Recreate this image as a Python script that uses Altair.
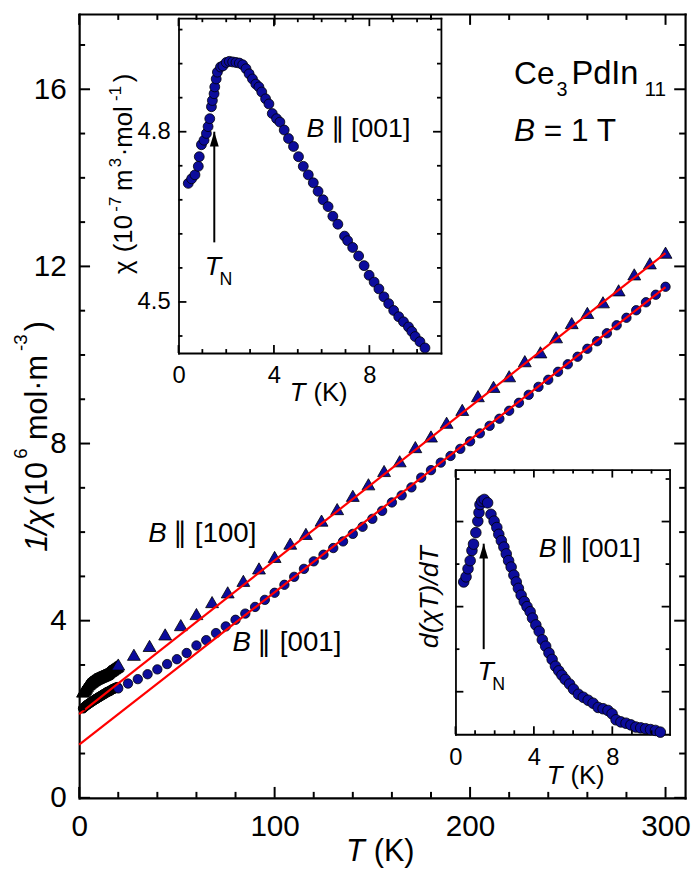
import altair as alt
import pandas as pd

# ---------------- data ----------------
# main panel: 1/chi (10^6 mol m^-3) vs T (K)
circ_T = [20, 25, 30, 35, 40, 45, 50, 55, 60, 65, 70, 75, 80, 85, 90, 95, 100, 105, 110, 115,
          120, 125, 130, 135, 140, 145, 150, 155, 160, 165, 170, 175, 180, 185, 190, 195, 200,
          205, 210, 215, 220, 225, 230, 235, 240, 245, 250, 255, 260, 265, 270, 275, 280, 285,
          290, 295, 300]
circ_v = [2.47, 2.58, 2.68, 2.79, 2.90, 3.02, 3.13, 3.27, 3.44, 3.56, 3.72, 3.87, 4.02, 4.16,
          4.31, 4.47, 4.63, 4.81, 4.99, 5.17, 5.34, 5.49, 5.64, 5.79, 5.96, 6.12, 6.30, 6.48,
          6.67, 6.83, 7.01, 7.23, 7.40, 7.57, 7.72, 7.88, 8.05, 8.23, 8.40, 8.56, 8.74, 8.92,
          9.10, 9.28, 9.44, 9.62, 9.79, 9.96, 10.14, 10.31, 10.49, 10.67, 10.84, 11.01, 11.19,
          11.36, 11.54]
tri_T = [20, 28, 36, 44, 52, 60, 68, 76, 84, 92, 100, 108, 116, 124, 132, 140, 148, 156, 164,
         172, 180, 188, 196, 204, 212, 220, 228, 236, 244, 252, 260, 268, 276, 284, 292, 300]
tri_v = [3.01, 3.23, 3.43, 3.69, 3.90, 4.15, 4.42, 4.64, 4.90, 5.18, 5.44, 5.74, 5.96, 6.26,
         6.52, 6.82, 7.08, 7.38, 7.60, 7.92, 8.16, 8.47, 8.76, 9.07, 9.28, 9.52, 9.86, 10.06,
         10.40, 10.72, 10.95, 11.19, 11.46, 11.82, 12.07, 12.31]
lowT_T = [2.0, 2.5, 3.0, 3.5, 4.0, 4.5, 5.0, 5.5, 6.0, 6.5, 7.0, 7.5, 8.0, 8.5, 9.0, 9.5, 10.0,
          10.5, 11.0, 11.5, 12.0, 12.5, 13.0, 13.5, 14.0, 14.5, 15.0, 15.5, 16.0, 16.5, 17.0,
          17.5, 18.0, 18.5, 19.0, 19.5]
lowT_100 = [2.40, 2.43, 2.46, 2.49, 2.53, 2.56, 2.58, 2.60, 2.62, 2.63, 2.65, 2.66, 2.68, 2.69,
            2.70, 2.71, 2.72, 2.73, 2.74, 2.75, 2.76, 2.77, 2.78, 2.79, 2.80, 2.82, 2.84, 2.86,
            2.87, 2.89, 2.90, 2.92, 2.93, 2.95, 2.96, 2.98]
lowT_001 = [2.02, 2.04, 2.06, 2.08, 2.10, 2.11, 2.13, 2.14, 2.16, 2.17, 2.19, 2.20, 2.22, 2.23,
            2.24, 2.26, 2.27, 2.28, 2.30, 2.31, 2.32, 2.34, 2.35, 2.36, 2.38, 2.39, 2.40, 2.41,
            2.42, 2.44, 2.45, 2.46, 2.47, 2.48, 2.49, 2.50]
fit_T = [0, 300]
fit_100 = [1.89, 12.30]
fit_001 = [1.20, 11.53]

# inset 1: chi (10^-7 m^3/mol) vs T (K), B || [001]
ins1_T = [0.41, 0.55, 0.69, 0.83, 0.87, 0.96, 1.07, 1.17, 1.24, 1.31, 1.38, 1.42, 1.49, 1.52,
          1.58, 1.63, 1.76, 1.86, 2.00, 2.13, 2.27, 2.41, 2.55, 2.69, 2.83, 2.96, 3.10, 3.24,
          3.37, 3.49, 3.65, 3.79, 3.93, 4.11, 4.25, 4.43, 4.61, 4.82, 5.03, 5.23, 5.44, 5.65,
          5.85, 6.06, 6.27, 6.47, 6.68, 6.96, 7.09, 7.30, 7.55, 7.78, 7.99, 8.20, 8.40, 8.61,
          8.81, 9.02, 9.23, 9.43, 9.64, 9.78, 9.92, 10.12, 10.33]
ins1_chi = [4.709, 4.717, 4.724, 4.739, 4.756, 4.777, 4.785, 4.797, 4.809, 4.823, 4.844, 4.855,
            4.867, 4.879, 4.893, 4.905, 4.914, 4.916, 4.922, 4.924, 4.923, 4.922, 4.921, 4.918,
            4.911, 4.902, 4.893, 4.884, 4.879, 4.870, 4.858, 4.849, 4.832, 4.823, 4.817, 4.803,
            4.788, 4.774, 4.756, 4.739, 4.724, 4.710, 4.695, 4.680, 4.668, 4.651, 4.637, 4.616,
            4.608, 4.596, 4.581, 4.564, 4.547, 4.535, 4.523, 4.509, 4.497, 4.485, 4.474, 4.465,
            4.456, 4.448, 4.439, 4.430, 4.419]
ins1_TN = [1.50]
ins1_tail = [4.605]
ins1_tip = [4.80]

# inset 2: d(chi T)/dT (arb. units) vs T (K), B || [001]
ins2_T = [0.42, 0.54, 0.64, 0.75, 0.84, 0.92, 1.04, 1.14, 1.20, 1.25, 1.34, 1.47, 1.64, 1.81,
          1.97, 2.11, 2.21, 2.34, 2.47, 2.59, 2.71, 2.84, 2.98, 3.10, 3.21, 3.35, 3.51, 3.65,
          3.81, 3.93, 4.10, 4.27, 4.43, 4.60, 4.77, 4.93, 5.10, 5.27, 5.43, 5.60, 5.82, 6.02,
          6.27, 6.52, 6.77, 7.02, 7.28, 7.53, 7.78, 7.99, 8.19, 8.44, 8.70, 8.95, 9.20, 9.45,
          9.70, 9.95, 10.20, 10.45]
ins2_v = [3.58, 3.70, 3.89, 4.08, 4.32, 4.47, 4.74, 5.01, 5.21, 5.40, 5.48, 5.52, 5.44, 5.17,
          5.01, 4.86, 4.70, 4.55, 4.40, 4.24, 4.08, 3.93, 3.74, 3.58, 3.43, 3.27, 3.12, 3.00,
          2.88, 2.73, 2.57, 2.42, 2.22, 2.07, 1.91, 1.76, 1.60, 1.49, 1.39, 1.29, 1.18, 1.06,
          0.94, 0.87, 0.80, 0.73, 0.63, 0.60, 0.56, 0.48, 0.34, 0.29, 0.26, 0.22, 0.17, 0.15,
          0.13, 0.11, 0.09, 0.05]
ins2_TN = [1.44]
ins2_tail = [2.0]
ins2_tip = [4.48]

# tick values
main_x_major = [0, 100, 200, 300]
main_x_minor = [20, 40, 60, 80, 120, 140, 160, 180, 220, 240, 260, 280]
main_y_major = [0, 4, 8, 12, 16]
main_y_minor = [1, 2, 3, 5, 6, 7, 9, 10, 11, 13, 14, 15, 17]
ins_x_major = [0, 4, 8]
ins_x_minor = [1, 2, 3, 5, 6, 7, 9, 10]
ins1_y_major = [4.5, 4.8]
ins1_y_minor = [4.44, 4.56, 4.62, 4.68, 4.74, 4.86, 4.92, 4.98]
ins2_y_major = [1, 3, 5]
ins2_y_minor = [2, 4, 6]

# ---------------- styling ----------------
FONT = "Liberation Sans"
BLUE = "#0C0C9C"
W, H = 613, 793
PAD = {"left": 72, "top": 1, "right": 7, "bottom": 70}


def axis(orient, values, offset=0, labels=False, fsize=30, lpad=0, fmt=None, dw=2.2):
    kw = dict(orient=orient, values=values, ticks=False, tickSize=0, labels=labels,
              domain=True, domainColor="black", domainWidth=dw, domainCap="square",
              offset=offset, title=None, grid=False)
    if labels:
        kw.update(labelFont=FONT, labelFontSize=fsize, labelColor="black",
                  labelPadding=lpad, labelFlush=False, labelOverlap=False)
        if fmt:
            kw["format"] = fmt
    return alt.Axis(**kw)


def scale(domain, rng):
    return alt.Scale(domain=domain, range=rng, nice=False, zero=False)


def xy(fx, fy, xs, ys, xa, ya):
    return dict(x=alt.X(f"{fx}:Q", scale=xs, axis=xa), y=alt.Y(f"{fy}:Q", scale=ys, axis=ya))


def tick_layers(xs, ys, xdom, xrng, ydom, yrng, xmaj, xmin, ymaj, ymin, lmaj, lmin, tw):
    """Inward ticks on the four sides of a frame, drawn as short rules through the scales
    (same encoding pattern as the arrows). Lengths in px are converted to data units."""
    kx = (xdom[1] - xdom[0]) / abs(xrng[1] - xrng[0])
    ky = (ydom[1] - ydom[0]) / abs(yrng[1] - yrng[0])
    out = []
    for vals, ln in ((xmaj, lmaj), (xmin, lmin)):
        for y0, sgn in ((ydom[0], 1), (ydom[1], -1)):
            d = pd.DataFrame({"v": vals, "a": [y0] * len(vals),
                              "b": [y0 + sgn * ln * ky] * len(vals)})
            out.append(alt.Chart(d).mark_rule(color="black", strokeWidth=tw).encode(
                x=alt.X("v:Q", scale=xs, axis=None),
                y=alt.Y("a:Q", scale=ys, axis=None),
                y2="b:Q"))
    for vals, ln in ((ymaj, lmaj), (ymin, lmin)):
        for x0, sgn in ((xdom[0], 1), (xdom[1], -1)):
            d = pd.DataFrame({"v": vals, "a": [x0] * len(vals),
                              "b": [x0 + sgn * ln * kx] * len(vals)})
            out.append(alt.Chart(d).mark_rule(color="black", strokeWidth=tw).encode(
                y=alt.Y("v:Q", scale=ys, axis=None),
                x=alt.X("a:Q", scale=xs, axis=None),
                x2="b:Q"))
    return out


# ---------------- main panel ----------------
MXD, MXR = [0, 310], [0, W]
MYD, MYR = [0, 17.7], [H, 0]
mxs = scale(MXD, MXR)
mys = scale(MYD, MYR)

df_circ = pd.DataFrame({"T": circ_T, "v": circ_v})
df_tri = pd.DataFrame({"T": tri_T, "v": tri_v})
df_low = pd.DataFrame({"T": lowT_T, "a": lowT_100, "c": lowT_001})
df_fit = pd.DataFrame({"T": fit_T, "a": fit_100, "c": fit_001})

m_lowtri = alt.Chart(df_low).mark_point(shape="triangle-up", filled=True, fill="black",
                                        stroke="black", strokeWidth=1, size=170, opacity=1).encode(
    **xy("T", "a", mxs, mys, None, None))
m_lowcirc = alt.Chart(df_low).mark_point(shape="circle", filled=True, fill="black",
                                         stroke="black", strokeWidth=1, size=90, opacity=1).encode(
    **xy("T", "c", mxs, mys, None, None))
m_circ = alt.Chart(df_circ).mark_point(shape="circle", filled=True, fill=BLUE, stroke="black",
                                       strokeWidth=0.8, size=90, opacity=1).encode(
    **xy("T", "v", mxs, mys,
         axis("bottom", main_x_major, labels=True, fsize=30, lpad=13.8, fmt="d"),
         axis("left", main_y_major, labels=True, fsize=30, lpad=13, fmt="d")))
m_tri = alt.Chart(df_tri).mark_point(shape="triangle-up", filled=True, fill=BLUE, stroke="black",
                                     strokeWidth=0.8, size=170, opacity=1).encode(
    **xy("T", "v", mxs, mys,
         axis("top", main_x_major),
         axis("right", main_y_major)))
m_fit_a = alt.Chart(df_fit).mark_line(color="#FF0000", strokeWidth=2.2).encode(
    **xy("T", "a", mxs, mys, None, None))
m_fit_c = alt.Chart(df_fit).mark_line(color="#FF0000", strokeWidth=2.2).encode(
    **xy("T", "c", mxs, mys, None, None))

main_ticks = tick_layers(mxs, mys, MXD, MXR, MYD, MYR, main_x_major, main_x_minor,
                         main_y_major, main_y_minor, 11, 6, 2.0)

main = alt.layer(m_lowtri, m_lowcirc, m_circ, m_tri, m_fit_a, m_fit_c, *main_ticks).resolve_axis(
    x="independent", y="independent")

ARROW = "M0,-1L0.6,1L-0.6,1Z"


def inset(df, xdom, ydom, box, ymaj, ymin, yfmt, ylabels, size, arrow_df):
    left, right, top, bottom = box
    xrng, yrng = [left, right], [bottom, top]
    xs, ys = scale(xdom, xrng), scale(ydom, yrng)
    ob, ot, ol, orr = bottom - H, -top, -left, right - W
    pts = alt.Chart(df).mark_point(shape="circle", filled=True, fill=BLUE, stroke="black",
                                   strokeWidth=0.8, size=size, opacity=1).encode(
        **xy("T", "v", xs, ys,
             axis("bottom", ins_x_major, offset=ob, labels=True, fsize=24, lpad=11.3,
                  fmt="d", dw=1.8),
             axis("left", ymaj, offset=ol, labels=ylabels, fsize=24, lpad=8.5,
                  fmt=yfmt, dw=1.8)))
    rule = alt.Chart(arrow_df).mark_rule(color="black", strokeWidth=2).encode(
        x=alt.X("T:Q", scale=xs, axis=None),
        y=alt.Y("tail:Q", scale=ys, axis=None),
        y2="tip:Q")
    head = alt.Chart(arrow_df).mark_point(shape=ARROW, filled=True, color="black", size=225,
                                          strokeWidth=0, opacity=1, yOffset=7.5).encode(
        **xy("T", "tip", xs, ys,
             axis("top", ins_x_major, offset=ot, dw=1.8),
             axis("right", ymaj, offset=orr, dw=1.8)))
    tks = tick_layers(xs, ys, xdom, xrng, ydom, yrng, ins_x_major, ins_x_minor, ymaj, ymin,
                      8, 4, 1.8)
    return alt.layer(pts, rule, head, *tks).resolve_axis(x="independent", y="independent")


# inset boxes in plot coordinates: left, right, top, bottom
ins1 = inset(pd.DataFrame({"T": ins1_T, "v": ins1_chi}), [0, 11], [4.41, 5.0],
             (100.5, 366.0, 4.3, 343.0), ins1_y_major, ins1_y_minor, ".1f", True, 100,
             pd.DataFrame({"T": ins1_TN, "tail": ins1_tail, "tip": ins1_tip}))
ins2 = inset(pd.DataFrame({"T": ins2_T, "v": ins2_v}), [0, 10.92], [0, 6.22],
             (380.7, 597.3, 461.0, 728.7), ins2_y_major, ins2_y_minor, "d", False, 115,
             pd.DataFrame({"T": ins2_TN, "tail": ins2_tail, "tip": ins2_tip}))

# ---------------- text ----------------
dummy = alt.Data(values=[{"k": 0}])


def label(text, x, y, size, italic=False, align="left", angle=0):
    kw = dict(text=text, font=FONT, fontSize=size, align=align, baseline="alphabetic",
              color="black")
    if italic:
        kw["fontStyle"] = "italic"
    if angle:
        kw["angle"] = angle
    return alt.Chart(dummy).mark_text(**kw).encode(x=alt.value(x), y=alt.value(y))


texts = [
    # main axis titles
    label("T", 270, 857, 31, italic=True),
    label("(K)", 298, 857, 31),
    label("1/χ", -33, 544, 31, italic=True, angle=270),
    label("(10", -33, 498, 31, angle=270),
    label("6", -53, 450, 19, angle=270),
    label("mol·m", -33, 431, 31, angle=270),
    label("-3", -53, 341, 19, angle=270),
    label(")", -33, 321, 31, angle=270),
    # main annotations
    label("B", 70, 534, 28, italic=True),
    label("∥", 102.5, 534, 28, align="center"),
    label("[100]", 117, 534, 28),
    label("B", 155, 644, 28, italic=True),
    label("∥", 186.5, 644, 28, align="center"),
    label("[001]", 203, 644, 28),
    label("Ce", 440, 71, 32),
    label("3", 483, 83, 20),
    label("PdIn", 498, 71, 33),
    label("11", 572, 83, 21),
    label("B", 440, 128, 32, italic=True),
    label("= 1 T", 470, 128, 32),
    # inset 1
    label("B", 230, 124, 27, italic=True),
    label("∥", 262, 124, 27, align="center"),
    label("[001]", 275, 124, 27),
    label("T", 127, 264, 27, italic=True),
    label("N", 142, 274, 18),
    label("T", 213, 392, 26, italic=True),
    label("(K)", 237, 392, 26),
    label("χ", 53, 263, 26, angle=270),
    label("(10", 53, 241, 26, angle=270),
    label("-7", 42, 200, 17, angle=270),
    label("m", 53, 179, 26, angle=270),
    label("3", 42, 155, 17, angle=270),
    label("·mol", 53, 144, 26, angle=270),
    label("-1", 42, 88, 17, angle=270),
    label(")", 53, 69, 26, angle=270),
    # inset 2
    label("B", 465, 549, 27, italic=True),
    label("∥", 493.5, 549, 27, align="center"),
    label("[001]", 508, 549, 27),
    label("T", 403, 674, 27, italic=True),
    label("N", 418, 684, 18),
    label("T", 473, 779, 26, italic=True),
    label("(K)", 497, 779, 26),
    label("d(χT)/dT", 363, 590, 27, italic=True, align="center", angle=270),
]

chart = alt.layer(main, ins1, ins2, *texts).resolve_scale(
    x="independent", y="independent").properties(
    width=W, height=H, padding=PAD,
    autosize=alt.AutoSizeParams(type="none")).configure_view(stroke=None)

chart.save("out.html", embed_options={"renderer": "svg", "actions": False})
